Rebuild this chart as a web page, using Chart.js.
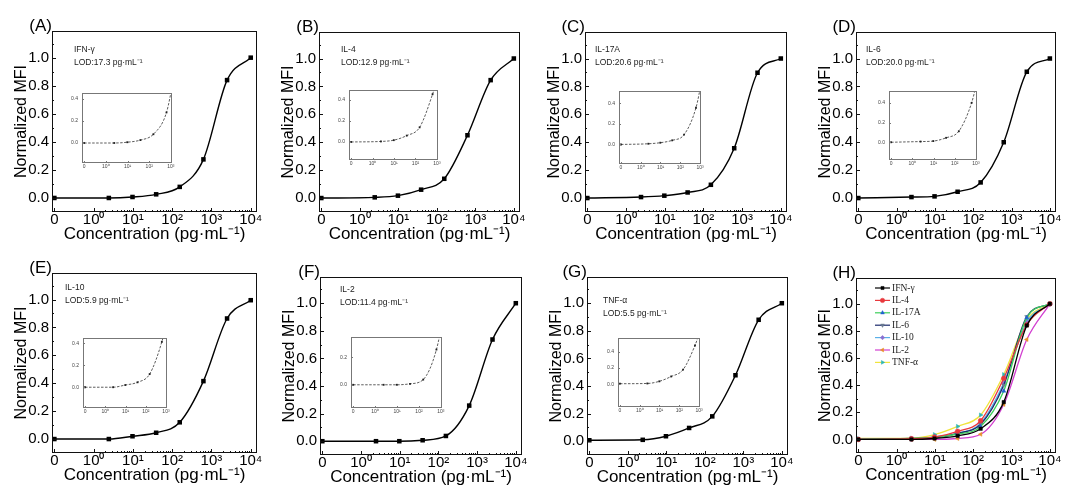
<!DOCTYPE html>
<html>
<head>
<meta charset="utf-8">
<script src="https://cdn.jsdelivr.net/npm/chart.js@4.4.0/dist/chart.umd.min.js"></script>
<style>
body { margin: 0; background: #fff; }
#wrap { position: relative; width: 1065px; height: 488px; overflow: hidden; background: #fff; }
canvas { position: absolute; }
.box { position: absolute; box-sizing: border-box; border: 1px solid #111; pointer-events: none; }
</style>
</head>
<body>
<div id="wrap"></div>
<script>
// concentrations in pg/mL (4-fold dilution)
var conc = [0, 2.44, 9.77, 39.1, 156, 625, 2500, 10000];

var xTickPos = [-1, 0, 1, 2, 3, 4];
var xTickLabels = ['0', '10⁰', '10¹', '10²', '10³', '10⁴'];
var insetXPos = [-1, 0, 1, 2, 3];
var insetXLabels = ['0', '10⁰', '10¹', '10²', '10³'];
var yTicks = [0, 0.2, 0.4, 0.6, 0.8, 1.0];

var names = ['IFN-γ', 'IL-4', 'IL-17A', 'IL-6', 'IL-10', 'IL-2', 'TNF-α'];
var lods = ['17.3', '12.9', '20.6', '20.0', '5.9', '11.4', '5.5'];
var letters = ['(A)', '(B)', '(C)', '(D)', '(E)', '(F)', '(G)', '(H)'];

// normalized MFI
var ifng  = [0.000, 0.000, 0.007, 0.026, 0.079, 0.275, 0.840, 1.000];
var il4   = [0.000, 0.005, 0.017, 0.060, 0.138, 0.450, 0.845, 1.000];
var il17a = [0.000, 0.007, 0.017, 0.040, 0.095, 0.357, 0.898, 1.000];
var il6   = [0.000, 0.007, 0.012, 0.045, 0.112, 0.400, 0.905, 1.000];
var il10  = [0.000, 0.000, 0.020, 0.045, 0.120, 0.415, 0.864, 0.995];
var il2   = [0.000, 0.000, 0.000, 0.007, 0.038, 0.258, 0.737, 1.000];
var tnfa  = [0.007, 0.010, 0.036, 0.096, 0.180, 0.478, 0.880, 1.000];
var series = [ifng, il4, il17a, il6, il10, il2, tnfa];

// inset y ranges / ticks per panel
var insetYMin = [-0.18, -0.17, -0.19, -0.18, -0.19, -0.17, -0.28];
var insetYMax = [0.45, 0.49, 0.52, 0.52, 0.45, 0.35, 0.57];
var insetYTicks = [[0, 0.2, 0.4], [0, 0.2, 0.4], [0, 0.2, 0.4], [0, 0.2, 0.4], [0, 0.2, 0.4], [0, 0.2], [0, 0.2, 0.4]];

// H panel styling
var lineColors = ['#000000', '#e8383d', '#3ccf5a', '#1b2a6b', '#5ab0e8', '#d23fd0', '#f0e43c'];
var markColors = ['#000000', '#e8383d', '#2060d0', '#6a7a90', '#8a6fd0', '#e8902a', '#2fb5b5'];
var markStyles = ['rect', 'circle', 'triangle', 'triangle', 'rectRot', 'triangle', 'triangle'];
var markRot = [0, 0, 0, 180, 0, 270, 90];

// layout: plot boxes [left, top, width, height]
var boxes = [
    [52, 31, 205, 181], [319, 32, 201, 180], [585, 32, 202, 180], [856, 32, 200, 180],
    [52, 273, 205, 180], [320, 277, 202, 178], [587, 277, 201, 178], [856, 278, 200, 175]
];
var insetBoxes = [
    [82, 89, 90, 74], [349, 86, 89, 74], [619, 87, 82, 77], [889, 87, 88, 73],
    [83, 334, 84, 74], [351, 333, 91, 75], [618, 334, 82, 73]
];
var noteOffsets = [[22, 19], [22, 18], [10, 18], [10, 18], [13, 15], [20, 13], [16, 24]];

var SANS = "'Liberation Sans', Arial, sans-serif";
var SERIF = "'Liberation Serif', 'Times New Roman', serif";

function xPos(c) { return c === 0 ? -1 : Math.log10(c); }
function points(vals) { return conc.map(function (c, i) { return { x: xPos(c), y: vals[i] }; }); }

var xMinor = [];
for (var d = 0; d < 4; d++) for (var k = 2; k < 10; k++) xMinor.push(d + Math.log10(k));

// inward ticks and the panel texts; settings kept on the chart object
function drawFrame(chart) {
    var f = chart.$frame;
    if (!f) return;
    var ctx = chart.ctx, a = chart.chartArea, x = chart.scales.x, y = chart.scales.y;
    var L = Math.round(a.left), R = Math.round(a.right), T = Math.round(a.top), B = Math.round(a.bottom);
    var w = 1;
    ctx.save();
    ctx.fillStyle = f.stroke;
    if (f.box) {
        ctx.fillRect(L, T, R - L, w);
        ctx.fillRect(L, B - w, R - L, w);
        ctx.fillRect(L, T, w, B - T);
        ctx.fillRect(R - w, T, w, B - T);
    }
    f.xMajor.forEach(function (v) { ctx.fillRect(Math.round(x.getPixelForValue(v)), B - f.big, w, f.big); });
    f.xMinor.forEach(function (v) { if (v <= x.max) ctx.fillRect(Math.round(x.getPixelForValue(v)), B - f.small, w, f.small); });
    f.yMajor.forEach(function (v) { ctx.fillRect(L, Math.round(y.getPixelForValue(v)), f.big, w); });
    f.yMinor.forEach(function (v) { ctx.fillRect(L, Math.round(y.getPixelForValue(v)), f.small, w); });

    ctx.fillStyle = '#000';
    if (f.letter) {
        ctx.font = '17px ' + SANS;
        ctx.textAlign = 'right';
        ctx.textBaseline = 'middle';
        ctx.fillText(f.letter, L, T - 5);
    }
    if (f.note) {
        ctx.font = '8.5px ' + SANS;
        ctx.textAlign = 'left';
        ctx.textBaseline = 'middle';
        ctx.fillStyle = '#222';
        ctx.fillText(f.note[0], L + f.note[2], T + f.note[3]);
        ctx.fillText(f.note[1], L + f.note[2], T + f.note[3] + 13);
    }
    if (f.legend) {
        ctx.font = '9.5px ' + SERIF;
        ctx.textAlign = 'left';
        ctx.textBaseline = 'middle';
        names.forEach(function (n, i) {
            var ly = T + 10 + i * 12.4;
            ctx.strokeStyle = lineColors[i];
            ctx.lineWidth = 1.2;
            ctx.beginPath();
            ctx.moveTo(L + 19, ly); ctx.lineTo(L + 34, ly);
            ctx.stroke();
            ctx.fillStyle = markColors[i];
            ctx.strokeStyle = markColors[i];
            ctx.lineWidth = 0.5;
            Chart.helpers.drawPoint(ctx, { pointStyle: markStyles[i], rotation: markRot[i], radius: 2.2, borderWidth: 0.5 }, L + 26.5, ly);
            ctx.fillStyle = '#222';
            ctx.fillText(n, L + 36, ly);
        });
    }
    ctx.restore();
}

var framePlugin = {
    id: 'panelFrame',
    beforeDatasetsDraw: function (chart) {
        var f = chart.$frame;
        if (!f || !f.fill) return;
        var a = chart.chartArea, ctx = chart.ctx;
        ctx.save();
        ctx.fillStyle = '#fff';
        ctx.fillRect(a.left, a.top, a.right - a.left, a.bottom - a.top);
        ctx.restore();
    },
    afterDraw: function (chart) { drawFrame(chart); }
};

var wrap = document.getElementById('wrap');

function makeCanvas(left, top, w, h) {
    var cv = document.createElement('canvas');
    cv.width = w; cv.height = h;
    cv.style.left = left + 'px'; cv.style.top = top + 'px';
    wrap.appendChild(cv);
    return cv;
}

function frameBox(box) {
    var el = document.createElement('div');
    el.className = 'box';
    el.style.left = box[0] + 'px'; el.style.top = box[1] + 'px';
    el.style.width = box[2] + 'px'; el.style.height = box[3] + 'px';
    wrap.appendChild(el);
}

function mainChart(idx, datasets, extra) {
    var box = boxes[idx];
    var L = 52, T = 31, R = 12, B = 36;
    var cv = makeCanvas(box[0] - L, box[1] - T, L + box[2] + R, T + box[3] + B);
    var chart = new Chart(cv, {
        type: 'line',
        data: { datasets: datasets },
        options: {
            responsive: false,
            animation: false,
            layout: { padding: { top: T, right: R, bottom: 3, left: 0 } },
            plugins: { legend: { display: false }, tooltip: { enabled: false } },
            scales: {
                x: {
                    type: 'linear', min: -1.06, max: 4.16,
                    afterBuildTicks: function (s) { s.ticks = xTickPos.map(function (v) { return { value: v }; }); },
                    afterFit: function (s) { s.height = B - 3; },
                    grid: { display: false, drawTicks: false },
                    border: { display: false },
                    ticks: {
                        autoSkip: false, maxRotation: 0, padding: 0, color: '#000',
                        font: { family: SANS, size: 15, lineHeight: 1 },
                        callback: function (v) { return xTickLabels[xTickPos.indexOf(v)]; }
                    },
                    title: { display: true, text: 'Concentration (pg·mL⁻¹)', color: '#000', font: { family: SANS, size: 17 }, padding: 0 }
                },
                y: {
                    type: 'linear', min: -0.1, max: 1.19,
                    afterBuildTicks: function (s) { s.ticks = yTicks.map(function (v) { return { value: v }; }); },
                    afterFit: function (s) { s.width = L; },
                    grid: { display: false, drawTicks: false },
                    border: { display: false },
                    ticks: {
                        padding: 3, color: '#000',
                        font: { family: SANS, size: 15 },
                        callback: function (v) { return v.toFixed(1); }
                    },
                    title: { display: true, text: 'Normalized MFI', color: '#000', font: { family: SANS, size: 16 }, padding: { top: 12, bottom: 0 } }
                }
            }
        },
        plugins: [framePlugin]
    });
    chart.$frame = {
        stroke: '#111', big: 4, small: 2,
        xMajor: xTickPos, xMinor: xMinor, yMajor: yTicks, yMinor: [0.1, 0.3, 0.5, 0.7, 0.9, 1.1],
        letter: letters[idx], note: extra.note, legend: extra.legend
    };
    chart.draw();
    frameBox(box);
    return chart;
}

function insetChart(idx) {
    var box = insetBoxes[idx];
    var L = 16, T = 3, R = 4, B = 10;
    var cv = makeCanvas(box[0] - L, box[1] - T, L + box[2] + R, T + box[3] + B);
    var yt = insetYTicks[idx];
    var chart = new Chart(cv, {
        type: 'line',
        data: {
            datasets: [{
                data: points(series[idx]),
                borderColor: '#333', borderWidth: 0.8, borderDash: [2.5, 1.5],
                cubicInterpolationMode: 'monotone',
                pointStyle: 'rect', pointRadius: 1.3, pointBackgroundColor: '#222', pointBorderWidth: 0
            }]
        },
        options: {
            responsive: false,
            animation: false,
            layout: { padding: { top: T, right: R, bottom: 0, left: 0 } },
            plugins: { legend: { display: false }, tooltip: { enabled: false } },
            scales: {
                x: {
                    type: 'linear', min: -1.1, max: 3.05,
                    afterBuildTicks: function (s) { s.ticks = insetXPos.map(function (v) { return { value: v }; }); },
                    afterFit: function (s) { s.height = B; },
                    grid: { display: false, drawTicks: false },
                    border: { display: false },
                    ticks: {
                        autoSkip: false, maxRotation: 0, padding: 1, color: '#444',
                        font: { family: SANS, size: 5, lineHeight: 1 },
                        callback: function (v) { return insetXLabels[insetXPos.indexOf(v)]; }
                    }
                },
                y: {
                    type: 'linear', min: insetYMin[idx], max: insetYMax[idx],
                    afterBuildTicks: function (s) { s.ticks = yt.map(function (v) { return { value: v }; }); },
                    afterFit: function (s) { s.width = L; },
                    grid: { display: false, drawTicks: false },
                    border: { display: false },
                    ticks: {
                        padding: 4, color: '#444',
                        font: { family: SANS, size: 5 },
                        callback: function (v) { return v.toFixed(1); }
                    }
                }
            }
        },
        plugins: [framePlugin]
    });
    chart.$frame = {
        fill: true, box: true, stroke: '#777', big: 2, small: 1,
        xMajor: insetXPos, xMinor: xMinor.slice(0, 24), yMajor: yt, yMinor: []
    };
    chart.draw();
    return chart;
}

// panels A-G
for (var i = 0; i < 7; i++) {
    var no = noteOffsets[i];
    mainChart(i, [{
        data: points(series[i]),
        borderColor: '#000', borderWidth: 1.4,
        cubicInterpolationMode: 'monotone',
        pointStyle: 'rect', pointRadius: 3.2,
        pointBackgroundColor: '#000', pointBorderColor: '#000', pointBorderWidth: 0
    }], { note: [names[i], 'LOD:' + lods[i] + ' pg·mL⁻¹', no[0], no[1]] });
}

// panel H: all together
mainChart(7, series.map(function (vals, i) {
    return {
        data: points(vals),
        borderColor: lineColors[i], borderWidth: 1.3,
        cubicInterpolationMode: 'monotone',
        pointStyle: markStyles[i], rotation: markRot[i], pointRadius: 2.4,
        pointBackgroundColor: markColors[i], pointBorderColor: markColors[i], pointBorderWidth: 0.5
    };
}), { legend: true });

for (var j = 0; j < 7; j++) insetChart(j);
</script>
</body>
</html>
